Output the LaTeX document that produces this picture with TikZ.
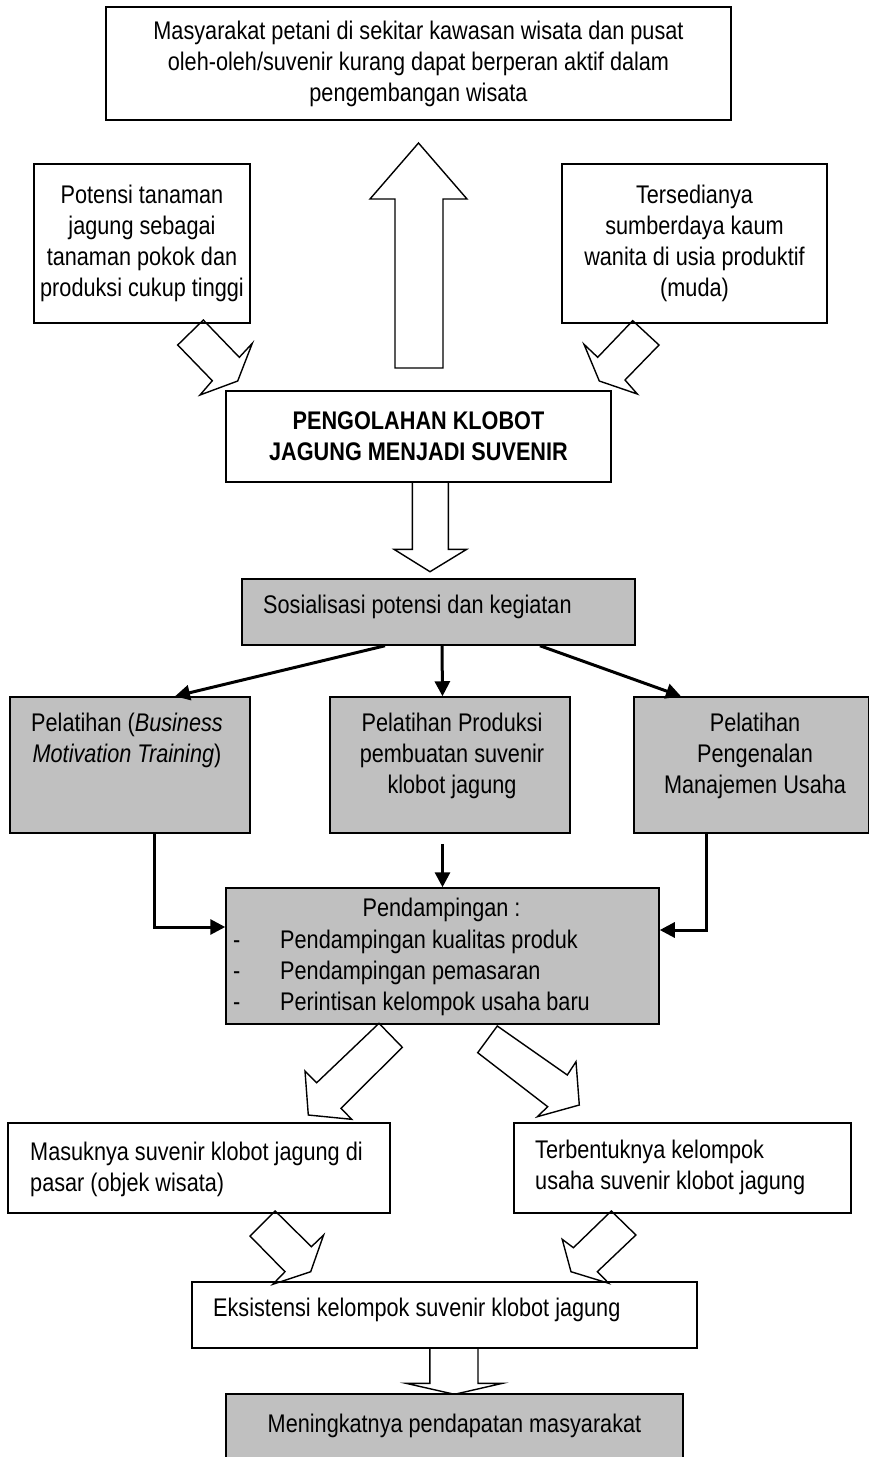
\documentclass[tikz,border=0pt]{standalone}
\usepackage{fontspec}
\setmainfont{Liberation Sans}[FakeStretch=0.85]
\usetikzlibrary{arrows.meta,calc}
\definecolor{boxgrey}{RGB}{192,192,192}
\begin{document}
\begin{tikzpicture}[x=1pt,y=-1pt,
  every node/.style={font=\fontsize{25.5}{31}\selectfont},
  box/.style={draw, line width=1.5pt, inner sep=0pt, align=center},
  gbox/.style={box, fill=boxgrey},
  blk/.style={draw, line width=1.4pt},
  conn/.style={line width=3pt, -{Triangle[length=15pt,width=15pt]}},
  txt/.style={inner sep=0pt, align=left}]
\useasboundingbox (0,0) rectangle (868,1457);

% top boxes
\node[box, minimum width=625pt, minimum height=113pt] (masy) at (418.5,63.5)
  {Masyarakat petani di sekitar kawasan wisata dan pusat\\oleh-oleh/suvenir kurang dapat berperan aktif dalam\\pengembangan wisata};
\node[box, minimum width=216pt, minimum height=159pt] (pot) at (142,243.5)
  {Potensi tanaman\\jagung sebagai\\tanaman pokok dan\\produksi cukup tinggi};
\node[box, minimum width=265pt, minimum height=159pt] (ter) at (694.5,243.5)
  {Tersedianya\\sumberdaya kaum\\wanita di usia produktif\\(muda)};
\node[box, minimum width=385pt, minimum height=91pt, font=\fontsize{25.5}{31}\selectfont\bfseries] (olah) at (418.5,436.5)
  {PENGOLAHAN KLOBOT\\JAGUNG MENJADI SUVENIR};

% block arrows (top part)
\draw[blk] (395,368) -- (443,368) -- (443,199) -- (467,199) -- (418.5,143) -- (370,199) -- (395,199) -- cycle;
\draw[blk] (203.3,320) -- (177.7,345) -- (212.3,380.7) -- (200,395) -- (237.7,381) -- (252.3,343.3) -- (239.3,357.3) -- cycle;
\draw[blk] (632.7,320.7) -- (659,345) -- (625,380) -- (637.3,394) -- (599.3,381) -- (584,344.3) -- (597.7,357.3) -- cycle;
\draw[blk] (412.3,482) -- (412.3,549.3) -- (394,549.3) -- (430,571.7) -- (466.7,549.3) -- (448.3,549.3) -- (448.3,482);

% sosialisasi
\node[gbox, minimum width=393pt, minimum height=66pt] (sos) at (438.5,612) {};
\node[txt, anchor=west] (sost) at (263,607) {Sosialisasi potensi dan kegiatan};

% training boxes
\node[gbox, minimum width=240pt, minimum height=136pt] (pbmt) at (130,765) {};
\node[txt, align=center] (pbmtt) at (127,740) {Pelatihan (\textit{Business}\\\textit{Motivation Training})};
\node[gbox, minimum width=240pt, minimum height=136pt] (prod) at (450,765) {};
\node[txt, align=center] (prodt) at (452,756) {Pelatihan Produksi\\pembuatan suvenir\\klobot jagung};
\node[gbox, minimum width=235pt, minimum height=136pt] (man) at (751.5,765) {};
\node[txt, align=center] (mant) at (755,755.5) {Pelatihan\\Pengenalan\\Manajemen Usaha};

\draw[conn] ([xshift=-53.5pt]sos.south) -- ([xshift=45pt]pbmt.north);
\draw[conn] ([xshift=3.5pt]sos.south) -- ([xshift=-7.5pt]prod.north);
\draw[conn] ([xshift=101.5pt]sos.south) -- ([xshift=-70.5pt]man.north);

% pendampingan
\node[gbox, minimum width=433pt, minimum height=136pt] (pend) at (442.5,956) {};
\node[txt] (pendt) at (441.6,910) {Pendampingan :};
\node[txt, anchor=west] (pendl) at (233,973)
  {\makebox[47pt][l]{-}Pendampingan kualitas produk\\\makebox[47pt][l]{-}Pendampingan pemasaran\\\makebox[47pt][l]{-}Perintisan kelompok usaha baru};

\draw[conn] ([xshift=24pt]pbmt.south) |- ([yshift=29pt]pend.west);
\draw[conn] ($(prod.south -| pend.north)+(0,10)$) -- (pend.north);
\draw[conn] ([xshift=-45.5pt]man.south) |- ([yshift=26pt]pend.east);

% block arrows from pendampingan
\draw[blk] (379,1023.3) -- (402.3,1047.3) -- (341,1108.3) -- (351.7,1119.3) -- (308.3,1115) -- (305,1071) -- (316.7,1082.7) -- cycle;
\draw[blk] (497.3,1026) -- (477.7,1052.7) -- (547.7,1106.7) -- (537.3,1116.7) -- (579.3,1105) -- (576,1061.7) -- (567.3,1075) -- cycle;

% outcome boxes
\node[box, minimum width=382pt, minimum height=90pt] (mas) at (199,1168) {};
\node[txt, anchor=west] (mast) at (30,1169) {Masuknya suvenir klobot jagung di\\pasar (objek wisata)};
\node[box, minimum width=337pt, minimum height=90pt] (tb) at (682.5,1168) {};
\node[txt, anchor=west] (tbt) at (535,1167.5) {Terbentuknya kelompok\\usaha suvenir klobot jagung};

\draw[blk] (275.2,1211) -- (250,1236) -- (285,1271.7) -- (272.8,1284.3) -- (310.7,1271.7) -- (323.6,1235) -- (311.4,1246.7) -- cycle;
\draw[blk] (611.3,1211) -- (635.9,1235) -- (597.3,1271.7) -- (608.8,1283.3) -- (571,1271.7) -- (562.2,1239.3) -- (573.4,1247.7) -- cycle;

% eksistensi
\node[box, minimum width=505pt, minimum height=66pt] (eks) at (444.5,1315) {};
\node[txt, anchor=west] (ekst) at (213,1310) {Eksistensi kelompok suvenir klobot jagung};

\draw[blk] (429.9,1348) -- (429.9,1383.3) -- (406,1383.3) -- (454.5,1394.3) -- (502.5,1383.3) -- (478,1383.3) -- (478,1348);

\node[gbox, minimum width=457pt, minimum height=64pt] (men) at (454.5,1426) {Meningkatnya pendapatan masyarakat};
\end{tikzpicture}
\end{document}
